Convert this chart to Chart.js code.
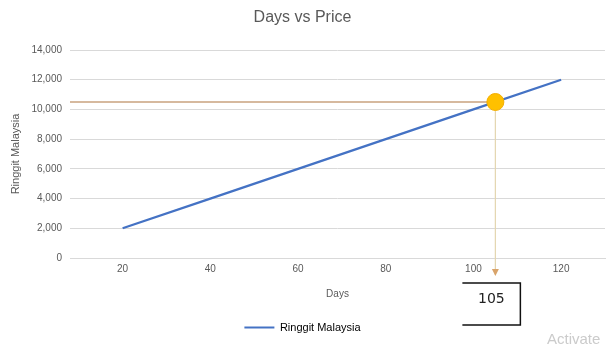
<!DOCTYPE html>
<html>
<head>
<meta charset="utf-8">
<script src="https://cdn.jsdelivr.net/npm/chart.js@4/dist/chart.umd.min.js"></script>
<style>
  html, body { margin: 0; padding: 0; background: #ffffff; }
  #wrap { width: 615px; height: 347px; }
</style>
</head>
<body>
<div id="wrap"><canvas id="c" width="615" height="347"></canvas></div>
<script>
// Price line: days against price in Ringgit Malaysia
const days = [20, 40, 60, 80, 100, 120];
const prices = [2000, 4000, 6000, 8000, 10000, 12000];
const xTickValues = [20, 40, 60, 80, 100, 120];
const yTickValues = [0, 2000, 4000, 6000, 8000, 10000, 12000, 14000];

// Highlighted reading on the line
const markedDay = [105];
const markedPrice = [10500];

const seriesName = 'Ringgit Malaysia';
const FONT = "'Liberation Sans', Arial, sans-serif";
const GREY = '#595959';

const linePoints = days.map((d, i) => ({ x: d, y: prices[i] }));
const xMin = 8, xMax = 130;
const guideBottom = -1150;

// Draws the arrow tip, the reading box and the watermark text
const annotationPlugin = {
  id: 'readingBox',
  afterDatasetsDraw(chart) {
    const { ctx, scales } = chart;
    const x = scales.x.getPixelForValue(markedDay[0]);
    const yTip = scales.y.getPixelForValue(guideBottom);
    ctx.save();
    // arrow head at end of vertical guide
    ctx.fillStyle = '#D9A46A';
    ctx.beginPath();
    ctx.moveTo(x - 3.5, yTip - 6);
    ctx.lineTo(x + 3.5, yTip - 6);
    ctx.lineTo(x, yTip + 1);
    ctx.closePath();
    ctx.fill();
    // box (open on the left side) with the day value
    const left = x - 33, right = x + 25, top = 283, bottom = 325;
    ctx.strokeStyle = '#111111';
    ctx.lineWidth = 1.5;
    ctx.beginPath();
    ctx.moveTo(left, top);
    ctx.lineTo(right, top);
    ctx.lineTo(right, bottom);
    ctx.lineTo(left, bottom);
    ctx.stroke();
    ctx.fillStyle = '#222222';
    ctx.font = "14px 'DejaVu Sans', sans-serif";
    ctx.textAlign = 'center';
    ctx.textBaseline = 'middle';
    ctx.fillText(String(markedDay[0]), x - 4, 299);
    // faint watermark at bottom right
    ctx.fillStyle = '#CBCBCB';
    ctx.font = "15px " + FONT;
    ctx.textAlign = 'left';
    ctx.textBaseline = 'alphabetic';
    ctx.fillText('Activate', 547, 344);
    ctx.restore();
  }
};

new Chart(document.getElementById('c'), {
  type: 'scatter',
  data: {
    datasets: [
      {
        label: 'reading',
        data: [{ x: markedDay[0], y: markedPrice[0] }],
        pointRadius: 8.5,
        pointBackgroundColor: '#FFC000',
        pointBorderColor: '#F3AE00',
        pointBorderWidth: 1,
        showLine: false,
        order: 0
      },
      {
        label: seriesName,
        data: linePoints,
        showLine: true,
        borderColor: '#4472C4',
        borderWidth: 2.25,
        pointRadius: 0,
        order: 1
      },
      {
        label: 'price guide',
        data: [{ x: xMin, y: markedPrice[0] }, { x: markedDay[0], y: markedPrice[0] }],
        showLine: true,
        borderColor: '#C8A27E',
        borderWidth: 1.6,
        pointRadius: 0,
        order: 2
      },
      {
        label: 'day guide',
        data: [{ x: markedDay[0], y: markedPrice[0] }, { x: markedDay[0], y: guideBottom }],
        showLine: true,
        borderColor: '#E4D6B0',
        borderWidth: 1.2,
        pointRadius: 0,
        clip: false,
        order: 3
      }
    ]
  },
  options: {
    responsive: false,
    animation: false,
    layout: { padding: { left: 0, right: 10, top: 0, bottom: 4 } },
    plugins: {
      tooltip: { enabled: false },
      title: {
        display: true,
        text: 'Days vs Price',
        color: GREY,
        font: { family: FONT, size: 16, weight: 'normal' },
        padding: { top: 8, bottom: 22.8 }
      },
      legend: {
        position: 'bottom',
        labels: {
          color: GREY,
          font: { family: FONT, size: 11 },
          boxWidth: 30,
          boxHeight: 2,
          padding: 10,
          generateLabels: () => [{
            text: seriesName,
            fillStyle: '#4472C4',
            strokeStyle: '#4472C4',
            lineWidth: 0,
            hidden: false,
            datasetIndex: 1
          }]
        }
      }
    },
    scales: {
      x: {
        type: 'linear',
        min: xMin,
        max: xMax,
        afterBuildTicks: (s) => { s.ticks = xTickValues.map(v => ({ value: v })); },
        afterFit: (s) => { s.height = 54; },
        grid: { display: false, drawTicks: false },
        border: { display: true, color: '#D9D9D9' },
        ticks: { color: GREY, font: { family: FONT, size: 10 }, padding: 5 },
        title: {
          display: true, text: 'Days', color: GREY,
          font: { family: FONT, size: 10 }, padding: { top: 4, bottom: 12 }
        }
      },
      y: {
        min: 0,
        max: 14000,
        afterBuildTicks: (s) => { s.ticks = yTickValues.map(v => ({ value: v })); },
        afterFit: (s) => { s.width = 70; },
        grid: { color: '#D9D9D9', drawTicks: false },
        border: { display: false },
        ticks: {
          color: GREY, font: { family: FONT, size: 10 }, padding: 8,
          callback: (v) => Number(v).toLocaleString('en-US')
        },
        title: {
          display: true, text: seriesName, color: GREY,
          font: { family: FONT, size: 11 }, padding: { top: 9, bottom: 0 }
        }
      }
    }
  },
  plugins: [annotationPlugin]
});
</script>
</body>
</html>
